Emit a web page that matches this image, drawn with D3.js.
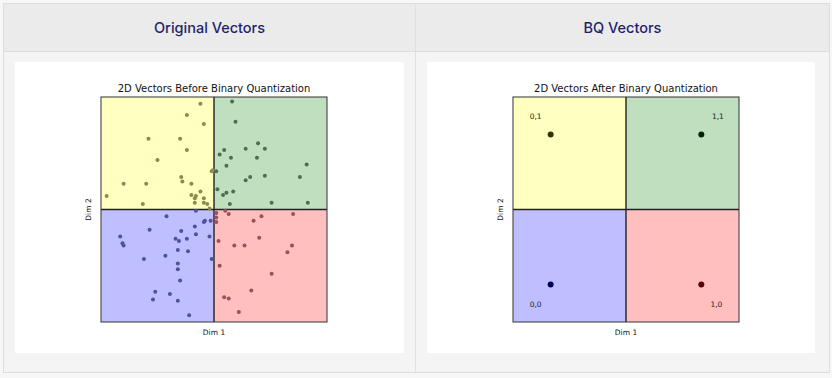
<!DOCTYPE html>
<html>
<head>
<meta charset="utf-8">
<script src="https://cdn.jsdelivr.net/npm/d3@7"></script>
<style>
  html, body { margin: 0; padding: 0; background: #f7f7f7; width: 832px; height: 378px; overflow: hidden; }
  #wrap { position: absolute; left: 3px; top: 3px; width: 825px; height: 368px; border: 1px solid #dedede; background: #f4f4f4; }
  .head { position: absolute; top: 0; height: 47px; background: #ebebeb; border-bottom: 1px solid #dcdcdc;
          font-family: Inter, "Noto Sans", sans-serif; font-size: 14.5px; font-weight: 500; color: #231f6b;
          text-align: center; line-height: 47px; }
  .col-div { position: absolute; top: 0; left: 411px; width: 1px; height: 368px; background: #e0e0e0; }
  .card { position: absolute; top: 58px; width: 389px; height: 291px; background: #fff; }
</style>
</head>
<body>
<div id="wrap">
  <div class="head" style="left:0;width:411px;">Original Vectors</div>
  <div class="head" style="left:412px;width:413px;">BQ Vectors</div>
  <div class="col-div"></div>
  <div class="card" id="left" style="left:11px;"></div>
  <div class="card" id="right" style="left:423px;width:388px;"></div>
</div>
<script>
// original 2D vectors
var origX = [-0.12,-0.24,-0.09,-0.58,-0.30,-0.24,-0.50,-0.29,-0.28,-0.80,-0.60,-0.20,-0.95,-0.20,-0.16,-0.12,-0.17,-0.09,-0.63,-0.17,-0.09,-0.06,-0.04,-0.02,-0.01,
             0.16,0.19,0.39,0.28,0.45,0.09,0.05,0.38,0.15,0.11,0.82,0.02,0.45,0.32,0.28,0.76,0.03,0.11,0.17,0.08,0.51,0.83,0.14,
             -0.16,-0.42,-0.03,-0.09,-0.08,-0.17,-0.57,-0.29,-0.16,-0.83,-0.34,-0.31,-0.24,-0.04,-0.81,-0.80,-0.32,-0.23,-0.43,-0.62,-0.02,-0.32,-0.32,-0.30,-0.52,-0.39,-0.54,-0.32,-0.22,
             0.02,0.10,0.13,0.02,0.02,0.42,0.70,0.35,0.40,0.04,0.18,0.27,0.69,0.65,0.05,0.51,0.33,0.09,0.13,0.22];
var origY = [0.94,0.84,0.76,0.63,0.63,0.53,0.44,0.29,0.25,0.23,0.23,0.23,0.12,0.13,0.12,0.16,0.10,0.10,0.05,0.06,0.06,0.05,0.01,0.34,0.35,
             0.96,0.78,0.59,0.54,0.54,0.53,0.49,0.46,0.46,0.39,0.40,0.34,0.30,0.29,0.26,0.29,0.18,0.15,0.16,0.13,0.06,0.06,0.05,
             -0.01,-0.06,-0.10,-0.11,-0.10,-0.15,-0.18,-0.19,-0.22,-0.24,-0.26,-0.28,-0.26,-0.24,-0.30,-0.32,-0.36,-0.37,-0.41,-0.44,-0.44,-0.48,-0.53,-0.63,-0.73,-0.75,-0.80,-0.81,-0.94,
             -0.03,-0.01,-0.04,-0.07,-0.11,-0.06,-0.04,-0.10,-0.25,-0.28,-0.32,-0.32,-0.32,-0.38,-0.50,-0.57,-0.72,-0.78,-0.79,-0.91];

// quantized vectors
var bqX = [-1, 1, -1, 1];
var bqY = [1, 1, -1, -1];
var bqLabels = ["0,1", "1,1", "0,0", "1,0"];
var labelDX = [-0.2, 0.22, -0.2, 0.2];
var labelDY = [0.24, 0.24, -0.27, -0.27];

// quadrant colours: [x>=0][y>=0]
var quadFill = { "00": "#0000ff", "01": "#ffff00", "10": "#ff0000", "11": "#008000" };
var dotOrig = { "00": "#5050a0", "01": "#8c8a4c", "10": "#9a5058", "11": "#4e6e52" };
var dotBQ = { "00": "#000055", "01": "#333300", "10": "#550000", "11": "#002200" };

function quadKey(x, y) { return (x >= 0 ? "1" : "0") + (y >= 0 ? "1" : "0"); }

function drawPanel(divId, title, lim) {
    var W = 389, H = 291;
    var m = { l: 86, t: 35 };
    var pw = 226, ph = 225;

    var svg = d3.select("#" + divId).append("svg").attr("width", W).attr("height", H)
        .style("font-family", "'DejaVu Sans', sans-serif");

    var x = d3.scaleLinear().domain([-lim, lim]).range([m.l, m.l + pw]);
    var y = d3.scaleLinear().domain([-lim, lim]).range([m.t + ph, m.t]);

    // quadrant backgrounds
    var quads = [[-lim, 0, "00"], [-lim, lim, "01"], [0, 0, "10"], [0, lim, "11"]];
    svg.selectAll("rect.q").data(quads).enter().append("rect")
        .attr("x", function (d) { return x(d[0]); })
        .attr("y", function (d) { return y(d[1]); })
        .attr("width", x(lim) - x(0))
        .attr("height", y(0) - y(lim))
        .attr("fill", function (d) { return quadFill[d[2]]; })
        .attr("fill-opacity", 0.25);

    // center lines
    svg.append("line").attr("x1", x(0)).attr("x2", x(0)).attr("y1", y(-lim)).attr("y2", y(lim))
        .attr("stroke", "#222").attr("stroke-width", 1.4);
    svg.append("line").attr("x1", x(-lim)).attr("x2", x(lim)).attr("y1", y(0)).attr("y2", y(0))
        .attr("stroke", "#222").attr("stroke-width", 1.4);

    // frame
    svg.append("rect").attr("x", x(-lim)).attr("y", y(lim)).attr("width", pw).attr("height", ph)
        .attr("fill", "none").attr("stroke", "#333").attr("stroke-width", 1);

    svg.append("text").attr("x", x(0)).attr("y", m.t - 5).attr("text-anchor", "middle")
        .attr("font-size", 10).attr("fill", "#111").text(title);
    svg.append("text").attr("x", x(0)).attr("y", m.t + ph + 13).attr("text-anchor", "middle")
        .attr("font-size", 7.5).attr("fill", "#111").text("Dim 1");
    svg.append("text").attr("transform", "translate(" + (m.l - 10) + "," + y(0) + ") rotate(-90)")
        .attr("text-anchor", "middle").attr("font-size", 7.5).attr("fill", "#111").text("Dim 2");

    return { svg: svg, x: x, y: y };
}

var left = drawPanel("left", "2D Vectors Before Binary Quantization", 1);
left.svg.selectAll("circle.p").data(d3.range(origX.length)).enter().append("circle")
    .attr("cx", function (i) { return left.x(origX[i]); })
    .attr("cy", function (i) { return left.y(origY[i]); })
    .attr("r", 2)
    .attr("fill", function (i) { return dotOrig[quadKey(origX[i], origY[i])]; });

var right = drawPanel("right", "2D Vectors After Binary Quantization", 1.5);
right.svg.selectAll("circle.p").data(d3.range(bqX.length)).enter().append("circle")
    .attr("cx", function (i) { return right.x(bqX[i]); })
    .attr("cy", function (i) { return right.y(bqY[i]); })
    .attr("r", 3)
    .attr("fill", function (i) { return dotBQ[quadKey(bqX[i], bqY[i])]; });
right.svg.selectAll("text.lab").data(d3.range(bqX.length)).enter().append("text")
    .attr("x", function (i) { return right.x(bqX[i] + labelDX[i]); })
    .attr("y", function (i) { return right.y(bqY[i] + labelDY[i]); })
    .attr("text-anchor", "middle").attr("dominant-baseline", "middle")
    .attr("font-size", 7.5).attr("fill", "#222")
    .text(function (i) { return bqLabels[i]; });
</script>
</body>
</html>
